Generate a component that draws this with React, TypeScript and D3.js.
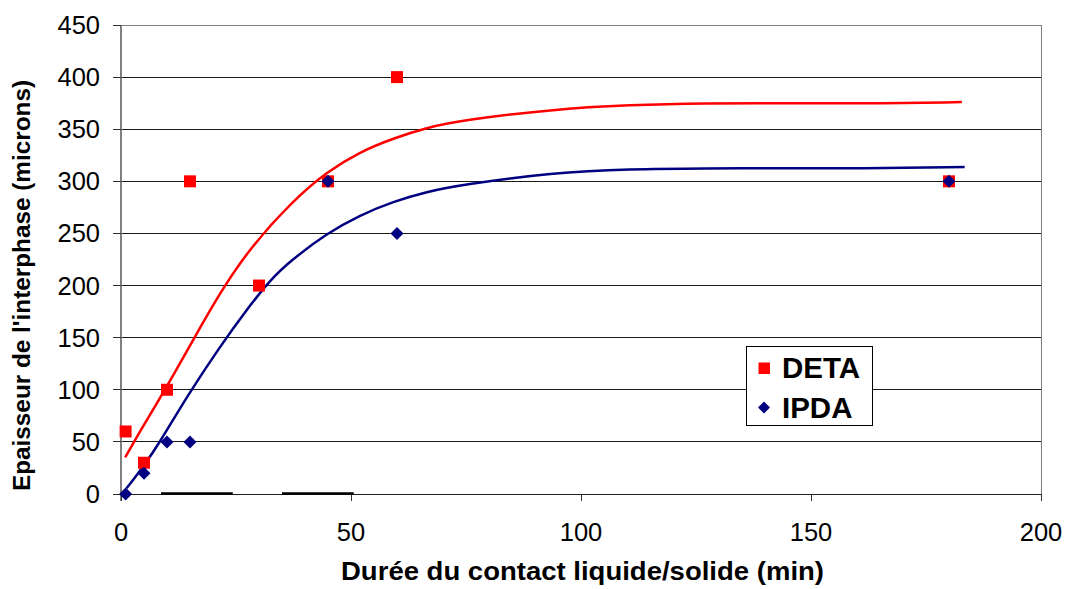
import React from "react";
import * as d3 from "d3";

const xTicks = [0, 50, 100, 150, 200];
const yTicks = [0, 50, 100, 150, 200, 250, 300, 350, 400, 450];

const detaX = [1, 5, 10, 15, 30, 45, 60, 180];
const detaY = [60, 30, 100, 300, 200, 300, 400, 300];
const ipdaX = [1, 5, 10, 15, 45, 60, 180];
const ipdaY = [0, 20, 50, 50, 300, 250, 300];

// trend curves
const detaFitX = [0.9, 4.1, 7.8, 11.4, 15.7, 21.5, 28, 37.5, 44.7, 52, 59.2, 66.5, 73.7, 93.9, 110.6, 127.2, 143.8, 160.4, 182.8];
const detaFitY = [35.2, 59.8, 87, 114, 148, 193, 236, 282, 309, 328.5, 341.3, 351.5, 358.3, 369.2, 373.3, 375, 375, 374.5, 376];
const ipdaFitX = [1.2, 4.85, 8.5, 14.3, 21.5, 27.3, 32.4, 37.1, 44.7, 52, 59.2, 66.5, 73.7, 93.9, 110.6, 127.2, 143.8, 160.4, 183.4];
const ipdaFitY = [5.5, 26.2, 50, 93.4, 141.4, 176.6, 205.4, 224.6, 250, 267.8, 280.6, 290, 296.5, 308.4, 311.9, 312.5, 312.5, 312.2, 313.8];

// dark segments lying on the zero baseline
const baseSegStart = [8.7, 35];
const baseSegEnd = [24.3, 50.6];

const legendLabels = ["DETA", "IPDA"];
const xTitle = "Durée du contact liquide/solide (min)";
const yTitle = "Epaisseur de l'interphase (microns)";

const W = 1066;
const H = 589;
const L = 121;
const R = 1041;
const T = 25;
const B = 494;

const RED = "#ff0000";
const NAVY = "#000080";
const FONT = "Liberation Sans, Arial, sans-serif";
const TICK_FS = 25.5;

export default function App() {
  const x = d3.scaleLinear().domain([0, 200]).range([L, R]);
  const y = d3.scaleLinear().domain([0, 450]).range([B, T]);

  const line = d3
    .line<[number, number]>()
    .x((d) => x(d[0]))
    .y((d) => y(d[1]))
    .curve(d3.curveBasis);

  const detaFit = detaFitX.map((v, i) => [v, detaFitY[i]] as [number, number]);
  const ipdaFit = ipdaFitX.map((v, i) => [v, ipdaFitY[i]] as [number, number]);

  const sq = 12;
  const dia = 6.5;
  const diamond = (cx: number, cy: number, r: number) =>
    `M${cx},${cy - r}L${cx + r},${cy}L${cx},${cy + r}L${cx - r},${cy}Z`;

  const lgX = 746;
  const lgY = 346;

  return (
    <svg width={W} height={H} style={{ position: "absolute", left: 0, top: 0, background: "#fff" }}>
      <rect x={0} y={0} width={W} height={H} fill="#fff" />
      {/* gridlines */}
      {yTicks.map((t) => (
        <line
          key={"g" + t}
          x1={L}
          x2={R}
          y1={y(t)}
          y2={y(t)}
          stroke={t === 450 ? "#808080" : "#1a1a1a"}
          strokeWidth={1}
          shapeRendering="crispEdges"
        />
      ))}
      {/* right border */}
      <line x1={R} x2={R} y1={T} y2={B} stroke="#808080" strokeWidth={1} shapeRendering="crispEdges" />
      {/* axes */}
      <line x1={L} x2={L} y1={T} y2={B + 7} stroke="#808080" strokeWidth={1.2} shapeRendering="crispEdges" />
      <line x1={L} x2={R} y1={B} y2={B} stroke="#202020" strokeWidth={1} shapeRendering="crispEdges" />
      {yTicks.map((t) => (
        <line key={"yt" + t} x1={L - 8} x2={L} y1={y(t)} y2={y(t)} stroke="#303030" shapeRendering="crispEdges" />
      ))}
      {xTicks.map((t) => (
        <line key={"xt" + t} x1={x(t)} x2={x(t)} y1={B} y2={B + 7} stroke="#303030" shapeRendering="crispEdges" />
      ))}
      {baseSegStart.map((s, i) => (
        <line
          key={"bs" + i}
          x1={x(s)}
          x2={x(baseSegEnd[i])}
          y1={B - 0.5}
          y2={B - 0.5}
          stroke="#000"
          strokeWidth={2.5}
        />
      ))}
      {/* tick labels */}
      {yTicks.map((t) => (
        <text key={"yl" + t} x={100} y={y(t) + 9} textAnchor="end" fontFamily={FONT} fontSize={TICK_FS} fill="#000">
          {t}
        </text>
      ))}
      {xTicks.map((t) => (
        <text key={"xl" + t} x={x(t)} y={541} textAnchor="middle" fontFamily={FONT} fontSize={TICK_FS} fill="#000">
          {t}
        </text>
      ))}
      {/* titles */}
      <text
        x={341}
        y={580}
        fontFamily={FONT}
        fontSize={26}
        fontWeight="bold"
        fill="#000"
        textLength={483}
        lengthAdjust="spacingAndGlyphs"
      >
        {xTitle}
      </text>
      <text
        transform={`translate(29.5,491) rotate(-90)`}
        fontFamily={FONT}
        fontSize={24.5}
        fontWeight="bold"
        fill="#000"
        textLength={411}
        lengthAdjust="spacingAndGlyphs"
      >
        {yTitle}
      </text>
      {/* trend lines */}
      <path d={line(detaFit) || ""} fill="none" stroke={RED} strokeWidth={2.5} />
      <path d={line(ipdaFit) || ""} fill="none" stroke={NAVY} strokeWidth={2.5} />
      {/* markers */}
      {detaX.map((v, i) => (
        <rect key={"d" + i} x={x(v) - sq / 2} y={y(detaY[i]) - sq / 2} width={sq} height={sq} fill={RED} />
      ))}
      {ipdaX.map((v, i) => (
        <path key={"p" + i} d={diamond(x(v), y(ipdaY[i]), dia)} fill={NAVY} />
      ))}
      {/* legend */}
      <rect x={lgX} y={lgY} width={126} height={79} fill="#fff" stroke="#000" strokeWidth={1} shapeRendering="crispEdges" />
      <rect x={758.5} y={362.5} width={11.5} height={11.5} fill={RED} />
      <path d={diamond(764, 407.5, 6)} fill={NAVY} />
      {legendLabels.map((l, i) => (
        <text key={l} x={782} y={378 + i * 40} fontFamily={FONT} fontSize={29.5} fontWeight="bold" fill="#000">
          {l}
        </text>
      ))}
    </svg>
  );
}
